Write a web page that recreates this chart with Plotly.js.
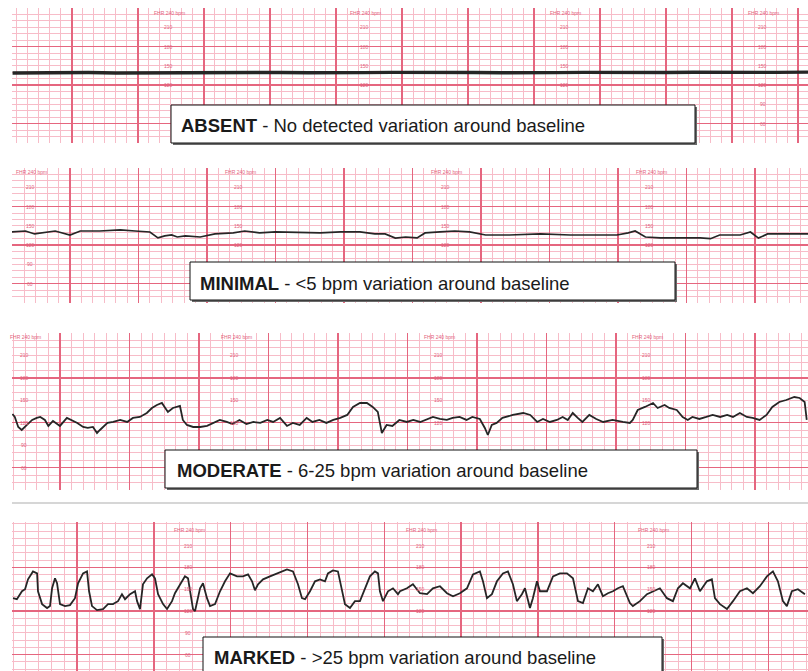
<!DOCTYPE html>
<html>
<head>
<meta charset="utf-8">
<script src="https://cdn.plot.ly/plotly-3.0.1.min.js"></script>
<style>html,body{margin:0;padding:0;background:#fff;}#chart{width:808px;height:671px;}</style>
</head>
<body>
<div id="chart"></div>
<script>
// ---------------- DATA (time in seconds, fetal heart rate in bpm) ----------------
const absentTime = [6, 25, 50, 75, 100, 125, 150, 175, 200, 225, 250, 275, 300, 325, 350, 375, 400, 425, 450, 475, 500, 525, 550, 575, 600, 625, 650, 675, 700, 729];
const absentBpm  = [139.0, 139.4, 139.2, 139.6, 139.0, 139.3, 139.8, 139.5, 139.1, 139.4, 139.7, 139.3, 139.0, 139.5, 139.9, 139.4, 139.2, 139.6, 139.3, 139.0, 139.4, 139.8, 139.5, 139.2, 139.6, 140.0, 139.7, 139.4, 139.8, 140.2];

const minimalTime = [9, 21, 29, 36, 47, 60, 69, 86, 104, 117, 130, 137, 143, 149, 154, 161, 174, 187, 203, 213, 226, 240, 262, 279, 297, 314, 327, 336, 345, 354, 364, 371, 384, 397, 410, 424, 445, 472, 498, 524, 539, 549, 555, 564, 577, 594, 612, 621, 629, 647, 656, 663, 671, 686, 707];
const minimalBpm  = [140.5, 142, 137.4, 139, 142, 135.8, 142, 142, 143.6, 142, 140.5, 131.2, 134.3, 135.8, 132.7, 134.3, 132.7, 137.4, 139, 142, 139, 140.5, 139, 139, 140.5, 140.5, 137.4, 137.4, 131, 132.7, 131.2, 139, 140.5, 142, 140.5, 135.8, 135.8, 137.4, 135.8, 135.8, 135.8, 139, 142, 132.7, 131.2, 131.2, 131.2, 130, 135.8, 135.8, 140.5, 131, 137.4, 137.4, 137.4];

const moderateTime = [19, 21, 24, 27, 31.5, 36, 40, 43, 47, 50, 54, 60, 66, 70, 75, 80, 84, 88.5, 92, 94.5, 101, 106, 112, 118, 123, 129, 135, 139.4, 143.7, 148, 150.6, 153.2, 157.5, 163.6, 166.1, 169.6, 175, 181, 187, 192, 198, 204, 209, 215, 221, 227, 233, 239, 244, 250, 256, 261, 267, 273, 278, 284, 290, 296, 302, 308, 313, 319, 325, 330, 334.4, 337.9, 342, 347, 353, 359.5, 365, 371, 377, 382, 388, 394, 399, 405, 411, 416, 422.5, 426.8, 429.4, 432.8, 437, 442, 451, 460, 466, 472, 477, 483, 489, 494, 498.4, 502.7, 507, 511, 517, 523, 529, 537, 546, 552, 554.5, 558.8, 565, 572, 576, 582, 586, 592.5, 597.6, 602, 606, 612, 618, 623.5, 630, 636, 641, 647, 653, 658, 664, 670, 675, 681, 687, 694, 698.6, 702.9, 704.7];
const moderateBpm  = [131.7, 127.7, 114.3, 110.3, 117, 123.7, 126.4, 127.7, 123.7, 115.7, 122.3, 115.7, 126.4, 123.7, 119.7, 114.3, 113, 114.3, 106.3, 110.3, 119.7, 121, 123.7, 121, 126.4, 127.7, 133, 139.7, 143.7, 146.4, 141.1, 134.4, 139.7, 142.4, 123.7, 117, 114.3, 114.3, 115.7, 119.7, 123.7, 121, 118.3, 123.7, 118.3, 121, 119.7, 123.7, 121, 126.4, 115.7, 119.7, 117, 126.4, 121, 123.7, 119.7, 123.7, 126.4, 130.4, 141.1, 146.4, 146.4, 141.1, 134.4, 106.3, 117, 115.7, 123.7, 121, 123.7, 121, 125, 127.7, 125, 123.7, 126.4, 127.7, 123.7, 127.7, 125, 113, 103.6, 117, 119.7, 126.4, 130.4, 133, 130.4, 121, 125, 121, 123.7, 127.7, 123.7, 133, 126.4, 121, 130.4, 125, 121, 123.7, 121, 119.7, 123.7, 137, 141.1, 146.4, 139.7, 143.7, 139.7, 137, 127.7, 123.7, 127.7, 125, 127.7, 130.4, 127.7, 130.4, 127.7, 133, 127.7, 126.4, 123.7, 130.4, 141.1, 147.7, 150.4, 154.4, 153.1, 147.7, 123.7];

const markedTime = [10, 13, 17, 19.4, 21.7, 25.6, 28.8, 29.5, 32.7, 36.6, 38.9, 40.5, 42.8, 44.4, 46.7, 50.6, 54.5, 58.4, 60.8, 64.7, 67.8, 69.4, 71.7, 75.6, 80.3, 84.2, 88.1, 92, 95.1, 97.5, 101.4, 105.3, 106.9, 109.2, 111.5, 114.7, 118.6, 120.9, 123.3, 127.2, 130.3, 134.2, 136.5, 140.4, 144.3, 146.7, 148.3, 150.6, 152.2, 156.1, 158.4, 161.5, 163.9, 167.8, 171.7, 175.6, 179.5, 185, 189.6, 193.6, 196.7, 199, 201.4, 205.3, 210.7, 216.2, 220.1, 224, 228.7, 232.6, 235.7, 238.1, 242, 245.9, 249.8, 253.7, 256, 259.9, 263.8, 267, 269.3, 273.2, 277.1, 281, 284.9, 288.8, 292.7, 295.1, 296.6, 299, 302.9, 306.8, 310.7, 312.3, 317.7, 322.4, 327.9, 333.4, 338, 343.5, 349, 353.7, 359.1, 364.6, 369.3, 374.7, 377.1, 380.2, 384.1, 388, 392.7, 396.6, 400.5, 403.6, 407.5, 409.9, 413.8, 416.1, 419.3, 421.6, 427.1, 431.8, 437.2, 442.7, 447.4, 451.3, 455.2, 459.1, 463, 466.9, 470.8, 474.7, 478.6, 482.5, 486.4, 491.9, 494.2, 499.7, 505.2, 509.9, 515.3, 520.8, 525.5, 529.4, 533.3, 538.8, 542.7, 546.6, 552, 555.9, 558.3, 562.2, 567.7, 572.4, 577.8, 583.3, 588, 593.4, 598.9, 603.6, 607.5, 611.4, 614.5, 618.4, 623.1, 628.6];
const markedBpm  = [137.7, 136.3, 147.2, 150, 163.6, 174.5, 171.8, 147.2, 129.5, 124.1, 126.8, 151.3, 165, 158.2, 129.5, 126.8, 128.2, 137.7, 158.2, 171.8, 174.5, 147.2, 126.8, 121.3, 122.7, 129.5, 129.5, 133.6, 143.2, 136.3, 143.2, 147.2, 133.6, 122.7, 156.8, 165, 170.4, 165, 143.2, 129.5, 122.7, 133.6, 144.5, 156.8, 167.7, 165, 147.2, 122.7, 120, 151.3, 158.2, 137.7, 126.8, 129.5, 147.2, 160.9, 171.8, 167.7, 167.7, 170.4, 160.9, 148.6, 156.8, 163.6, 167.7, 171.8, 174.5, 177.3, 174.5, 156.8, 137.7, 136.3, 147.2, 160.9, 163.6, 160.9, 171.8, 175.9, 174.5, 147.2, 129.5, 124.1, 133.6, 133.6, 151.3, 167.7, 174.5, 171.8, 147.2, 133.6, 147.2, 151.3, 143.2, 147.2, 151.3, 156.8, 144.5, 143.2, 151.3, 154.1, 144.5, 140.4, 144.5, 151.3, 170.4, 174.5, 160.9, 137.7, 143.2, 160.9, 171.8, 174.5, 156.8, 133.6, 143.2, 151.3, 124.1, 137.7, 160.9, 147.2, 147.2, 167.7, 171.8, 171.8, 165, 133.6, 130.9, 151.3, 147.2, 156.8, 140.4, 144.5, 147.2, 151.3, 154.1, 130.9, 126.8, 133.6, 143.2, 147.2, 151.3, 137.7, 133.6, 151.3, 158.2, 151.3, 165, 147.2, 160.9, 163.6, 137.7, 129.5, 122.7, 133.6, 147.2, 151.3, 144.5, 154.1, 167.7, 174.5, 160.9, 133.6, 126.8, 147.2, 150, 143.2];

// Printed scale labels on the strip paper
const headerLabel = 'FHR 240 bpm';
const scaleLabels = [210, 180, 150, 120, 90, 60, 30];
const absentLabelCols   = [149, 327, 509, 689];
const minimalLabelCols  = [26, 209, 390, 569];
const moderateLabelCols = [30, 212, 388, 567];
const markedLabelCols   = [148, 329, 510];

// Captions
const captionBold = ['ABSENT', 'MINIMAL', 'MODERATE', 'MARKED'];
const captionText = [' - No detected variation around baseline', ' - <5 bpm variation around baseline', ' - 6-25 bpm variation around baseline', ' - >25 bpm variation around baseline'];

// ---------------- LAYOUT ----------------
const W = 808, H = 671, GL = 12;
const fx = p => p / W, fy = p => 1 - p / H;
const MAJOR = '#e5667f', MINOR = '#f7bcc8', INK = '#262626', LABEL = '#e2627c';

const strips = [
  {top: 8,   bottom: 143, xr: [5.5, 729],   yr: [30, 240],     hdr: 232, t: absentTime,   v: absentBpm,   cols: absentLabelCols,   lw: 3.4},
  {top: 168, bottom: 303, xr: [9.2, 706.4], yr: [30, 240],     hdr: 234, t: minimalTime,  v: minimalBpm,  cols: minimalLabelCols,  lw: 1.7},
  {top: 333, bottom: 490, xr: [18.6, 705.8],yr: [30, 240],     hdr: 235, t: moderateTime, v: moderateBpm, cols: moderateLabelCols, lw: 1.8},
  {top: 522, bottom: 671, xr: [9.2, 631],   yr: [37.5, 242.5], hdr: 232, t: markedTime,   v: markedBpm,   cols: markedLabelCols,   lw: 1.8}
];
const boxes = [
  {l: 171, r: 695, t: 105, b: 143, tx: 179, cy: 126},
  {l: 190, r: 675, t: 262, b: 300, tx: 198, cy: 283},
  {l: 165, r: 697, t: 450, b: 488, tx: 175, cy: 471},
  {l: 203, r: 662, t: 637, b: 676, tx: 212, cy: 657}
];
const insideBox = (x, y) => boxes.some(b => x > b.l - 14 && x < b.r + 14 && y > b.t - 5 && y < b.b + 5);

const data = [];
const layout = {
  width: W, height: H, margin: {l: 0, r: 0, t: 0, b: 0},
  paper_bgcolor: '#ffffff', plot_bgcolor: '#ffffff', showlegend: false,
  annotations: [], shapes: []
};

strips.forEach((s, i) => {
  const n = i === 0 ? '' : String(i + 1);
  data.push({type: 'scatter', mode: 'lines', x: s.t, y: s.v, xaxis: 'x' + n, yaxis: 'y' + n,
             line: {color: INK, width: s.lw}, hoverinfo: 'skip'});
  layout['xaxis' + n] = {
    domain: [fx(GL), 1], range: s.xr, anchor: 'y' + n,
    showticklabels: false, ticks: '', zeroline: false, showline: false, fixedrange: true,
    tickmode: 'linear', tick0: 0, dtick: 60, showgrid: true, gridcolor: MAJOR, gridwidth: 1.4,
    minor: {tickmode: 'linear', tick0: 0, dtick: 10, showgrid: true, gridcolor: MINOR, gridwidth: 1, ticks: ''}
  };
  layout['yaxis' + n] = {
    domain: [fy(s.bottom), fy(s.top)], range: s.yr, anchor: 'x' + n,
    showticklabels: false, ticks: '', zeroline: false, showline: false, fixedrange: true,
    tickmode: 'array', tickvals: [60, 120, 180], showgrid: true, gridcolor: MAJOR, gridwidth: 1.4,
    minor: {tickmode: 'linear', tick0: 0, dtick: 10, showgrid: true, gridcolor: MINOR, gridwidth: 1, ticks: ''}
  };
  const toPx = (xv, yv) => [GL + (xv - s.xr[0]) / (s.xr[1] - s.xr[0]) * (W - GL),
                            s.top + (s.yr[1] - yv) / (s.yr[1] - s.yr[0]) * (s.bottom - s.top)];
  s.cols.forEach(c => {
    layout.annotations.push({xref: 'x' + n, yref: 'y' + n, x: c, y: s.hdr, text: headerLabel, showarrow: false,
      font: {family: 'Liberation Sans, Arial, sans-serif', size: 5, color: LABEL}});
    scaleLabels.forEach(v => {
      const yv = (v === 30 ? 36 : v);
      const p = toPx(c - 1, yv);
      if (v > s.yr[0] + 3 && v < s.yr[1] && !insideBox(p[0], p[1])) {
        layout.annotations.push({xref: 'x' + n, yref: 'y' + n, x: c - 1, y: yv, text: String(v), showarrow: false,
          font: {family: 'Liberation Sans, Arial, sans-serif', size: 5, color: LABEL}});
      }
    });
  });
});

// separator line under the moderate strip
layout.shapes.push({type: 'line', xref: 'paper', yref: 'paper', x0: fx(GL), x1: 1, y0: fy(503), y1: fy(503),
  line: {color: '#c9c9c9', width: 1.5}});

boxes.forEach((b, i) => {
  layout.shapes.push({type: 'rect', xref: 'paper', yref: 'paper', layer: 'above',
    x0: fx(b.l + 2), x1: fx(b.r + 2), y0: fy(b.b + 2), y1: fy(b.t + 2), fillcolor: '#6a6a6a', line: {width: 0}});
  layout.shapes.push({type: 'rect', xref: 'paper', yref: 'paper', layer: 'above',
    x0: fx(b.l), x1: fx(b.r), y0: fy(b.b), y1: fy(b.t), fillcolor: '#ffffff', line: {color: '#111111', width: 1}});
  layout.annotations.push({xref: 'paper', yref: 'paper', x: fx(b.tx), y: fy(b.cy), xanchor: 'left', yanchor: 'middle',
    text: '<b>' + captionBold[i] + '</b>' + captionText[i].replace('<', '&lt;').replace('>', '&gt;'), showarrow: false,
    font: {family: 'Liberation Sans, Arial, sans-serif', size: 18.5, color: '#1a1a1a'}});
});

Plotly.newPlot('chart', data, layout, {displayModeBar: false, staticPlot: true});
</script>
</body>
</html>
